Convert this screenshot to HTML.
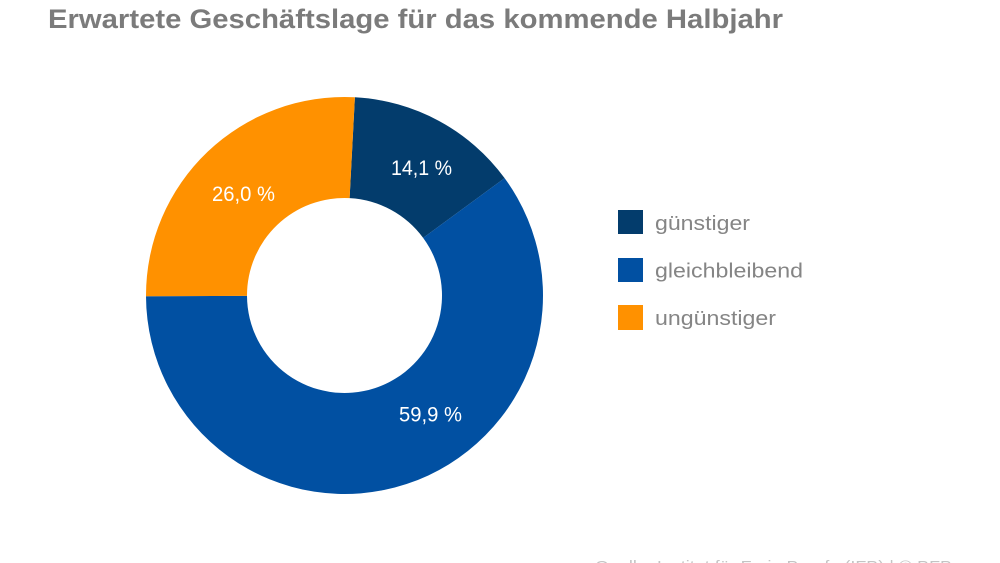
<!DOCTYPE html>
<html>
<head>
<meta charset="utf-8">
<style>
  html, body { margin:0; padding:0; background:#ffffff; }
  body { width:1000px; height:563px; overflow:hidden; }
  svg { display:block; }
  text { font-family: "Liberation Sans", "DejaVu Sans", sans-serif; }
</style>
</head>
<body>
<svg width="1000" height="563" viewBox="0 0 1000 563" xmlns="http://www.w3.org/2000/svg">
  <rect x="0" y="0" width="1000" height="563" fill="#ffffff"/>

  <!-- Title -->
  <text x="48" y="28" font-size="26.5" font-weight="bold" fill="#7b7b7b" textLength="735" lengthAdjust="spacingAndGlyphs">Erwartete Geschäftslage für das kommende Halbjahr</text>

  <!-- Donut -->
  <path d="M 354.89 97.27 A 198.5 198.5 0 0 1 504.60 178.15 L 423.14 237.86 A 97.5 97.5 0 0 0 349.60 198.13 Z" fill="#033c6c"/>
  <path d="M 504.60 178.15 A 198.5 198.5 0 1 1 146.00 296.19 L 247.00 295.84 A 97.5 97.5 0 1 0 423.14 237.86 Z" fill="#0150a2"/>
  <path d="M 146.00 296.19 A 198.5 198.5 0 0 1 354.89 97.27 L 349.60 198.13 A 97.5 97.5 0 0 0 247.00 295.84 Z" fill="#ff9100"/>

  <!-- Slice labels -->
  <text x="391" y="175" font-size="21" fill="#ffffff" textLength="61" lengthAdjust="spacingAndGlyphs">14,1 %</text>
  <text x="212" y="201" font-size="21" fill="#ffffff" textLength="63" lengthAdjust="spacingAndGlyphs">26,0 %</text>
  <text x="399" y="421.5" font-size="21" fill="#ffffff" textLength="63" lengthAdjust="spacingAndGlyphs">59,9 %</text>

  <!-- Legend -->
  <rect x="618" y="210" width="25" height="24" fill="#033c6c"/>
  <text x="655" y="230" font-size="20.5" fill="#858585" textLength="95" lengthAdjust="spacingAndGlyphs">günstiger</text>

  <rect x="618" y="258" width="25" height="24" fill="#0150a2"/>
  <text x="655" y="277.5" font-size="20.5" fill="#858585" textLength="148" lengthAdjust="spacingAndGlyphs">gleichbleibend</text>

  <rect x="618" y="305" width="25" height="25" fill="#ff9100"/>
  <text x="655" y="325" font-size="20.5" fill="#858585" textLength="121" lengthAdjust="spacingAndGlyphs">ungünstiger</text>

  <!-- Source (cut off at bottom) -->
  <text x="595" y="571" font-size="15" fill="#c4c4c4" textLength="357" lengthAdjust="spacingAndGlyphs">Quelle: Institut für Freie Berufe (IFB) | © BFB</text>
</svg>
</body>
</html>
